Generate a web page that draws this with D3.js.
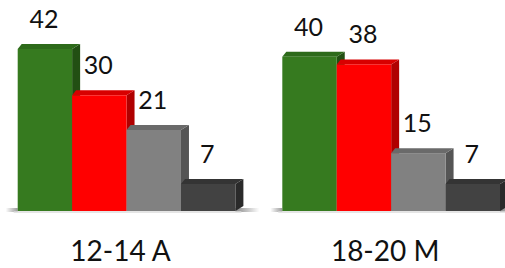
<!DOCTYPE html>
<html lang="en">
<head>
<meta charset="utf-8" />
<script type="text/javascript" src="https://d3js.org/d3.v7.min.js"></script>
<style type="text/css">
  body { margin: 0; background: #fff; }
  text { font-family: Lato, "Open Sans", sans-serif; fill: #111; }
</style>
</head>
<body>
<script type="text/javascript">

var categories = ["12-14 A", "18-20 M"];
var series = ["s1", "s2", "s3", "s4"];
var values = [
  [42, 30, 21, 7],
  [40, 38, 15, 7]
];
var colors = [
  { front: "#367a1f", side: "#224f13", top: "#2d6a1a" },
  { front: "#ff0000", side: "#b00000", top: "#d80000" },
  { front: "#818181", side: "#555555", top: "#6a6a6a" },
  { front: "#424242", side: "#2a2a2a", top: "#343434" }
];

var w = 505;
var h = 268;
var base = 211;
var dxR = 8, dxL = 4, dy = -5;

var svg = d3.select("body")
  .append("svg")
  .attr("width", w)
  .attr("height", h);

var x = d3.scaleBand()
  .domain(categories)
  .range([17.7, 500])
  .paddingInner(0.1773)
  .paddingOuter(0);

var xs = d3.scaleBand()
  .domain(series)
  .range([0, x.bandwidth()])
  .padding(0);

var y = d3.scaleLinear()
  .domain([0, 42])
  .range([base, 49]);

// floor shadow
var defs = svg.append("defs");
var gl = defs.append("linearGradient").attr("id", "shL").attr("x1", 0).attr("x2", 1);
gl.append("stop").attr("offset", 0).attr("stop-color", "#fff");
gl.append("stop").attr("offset", 1).attr("stop-color", "#9a9a9a");
var gr = defs.append("linearGradient").attr("id", "shR").attr("x1", 0).attr("x2", 1);
gr.append("stop").attr("offset", 0).attr("stop-color", "#8a8a8a");
gr.append("stop").attr("offset", 1).attr("stop-color", "#fff");

var groups = svg.selectAll("g.cat")
  .data(categories)
  .enter()
  .append("g")
  .attr("class", "cat")
  .attr("transform", function(d) { return "translate(" + x(d) + ",0)"; });

groups.append("rect")
  .attr("x", -12).attr("y", base - 3)
  .attr("width", 12).attr("height", 4)
  .attr("fill", "url(#shL)");
groups.append("rect")
  .attr("x", x.bandwidth()).attr("y", base - 3)
  .attr("width", 24).attr("height", 4)
  .attr("fill", "url(#shR)");
groups.append("line")
  .attr("x1", -4).attr("x2", x.bandwidth() + 6)
  .attr("y1", base + 1).attr("y2", base + 1)
  .attr("stroke", "#dcdcdc").attr("stroke-width", 1.5);

//Create bars
var bars = groups.selectAll("g.bar")
  .data(function(d, gi) {
    return values[gi].map(function(v, i) { return { s: series[i], i: i, v: v }; });
  })
  .enter()
  .append("g")
  .attr("class", "bar");

bars.append("polygon")
  .attr("points", function(d) {
    var x1 = xs(d.s) + xs.bandwidth(), yt = y(d.v);
    return [[x1, yt], [x1 + dxR, yt + dy], [x1 + dxR, base + dy], [x1, base]].join(" ");
  })
  .attr("fill", function(d) { return colors[d.i].side; });

bars.append("polygon")
  .attr("points", function(d) {
    var x0 = xs(d.s), x1 = x0 + xs.bandwidth(), yt = y(d.v);
    return [[x0, yt], [x1, yt], [x1 + dxR, yt + dy], [x0 + dxL, yt + dy]].join(" ");
  })
  .attr("fill", function(d) { return colors[d.i].top; });

bars.append("rect")
  .attr("x", function(d) { return xs(d.s); })
  .attr("y", function(d) { return y(d.v); })
  .attr("width", xs.bandwidth())
  .attr("height", function(d) { return base - y(d.v); })
  .attr("fill", function(d) { return colors[d.i].front; });

//Create labels
groups.selectAll("text.val")
  .data(function(d, gi) {
    return values[gi].map(function(v, i) { return { s: series[i], v: v }; });
  })
  .enter()
  .append("text")
  .attr("class", "val")
  .attr("x", function(d) { return xs(d.s) + xs.bandwidth() / 2 - 1; })
  .attr("y", function(d) { return y(d.v) - 21; })
  .style("text-anchor", "middle")
  .style("font-size", "25px")
  .text(function(d) { return d.v; });

groups.append("text")
  .attr("x", x.bandwidth() / 2 - 6)
  .attr("y", 261)
  .style("text-anchor", "middle")
  .style("font-size", "28px")
  .text(function(d) { return d; });

</script>
</body>
</html>
